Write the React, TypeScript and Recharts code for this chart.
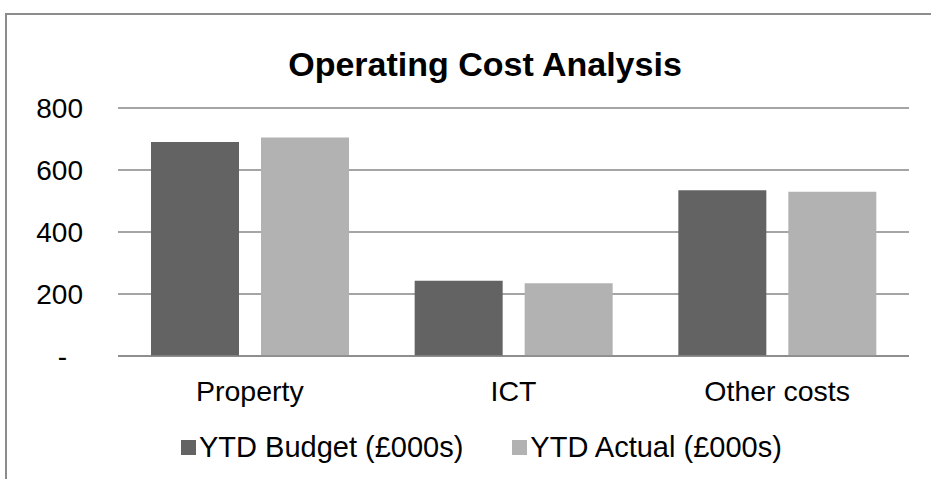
import { BarChart, Bar, XAxis, YAxis, CartesianGrid, Legend } from "recharts";

const categories = ["Property", "ICT", "Other costs"];
const budget = [690, 243, 535];
const actual = [705, 235, 530];
const yTicks = [0, 200, 400, 600, 800];

const SERIES = [
  { key: "budget", name: "YTD Budget (£000s)", fill: "#636363" },
  { key: "actual", name: "YTD Actual (£000s)", fill: "#b2b2b2" },
];

const FONT = "'Liberation Sans', Arial, sans-serif";
const GRID = "#878787";

const data = categories.map((name, i) => ({ name, budget: budget[i], actual: actual[i] }));

/* eslint-disable @typescript-eslint/no-explicit-any */
const YTick = ({ x, y, payload }: any) => {
  const isZero = payload.value === 0;
  return (
    <text
      x={isZero ? x - 16 : x}
      y={y}
      dy="0.355em"
      textAnchor="end"
      fontSize={28}
      fontFamily={FONT}
      fill="#000"
    >
      {isZero ? "-" : payload.value}
    </text>
  );
};

const LegendContent = () => (
  <div style={{ height: 40, display: "flex", alignItems: "center", paddingLeft: 181, fontFamily: FONT, fontSize: 29, color: "#000" }}>
    {SERIES.map((s, i) => (
      <div key={s.key} style={{ display: "flex", alignItems: "center", marginLeft: i > 0 ? 49 : 0 }}>
        <span style={{ display: "inline-block", width: 15, height: 15, background: s.fill, marginRight: 3 }} />
        <span>{s.name}</span>
      </div>
    ))}
  </div>
);
/* eslint-enable @typescript-eslint/no-explicit-any */

export default function App() {
  return (
    <div style={{ position: "fixed", left: 0, top: 0, width: 931, height: 479, overflow: "hidden", background: "#fff" }}>
      <div style={{ position: "absolute", left: 0, top: 0 }}>
        <BarChart
          width={931}
          height={479}
          data={data}
          margin={{ top: 108, right: 22, bottom: 12, left: 0 }}
          barCategoryGap={33}
          barGap={22}
        >
          <text x={485} y={76} textAnchor="middle" fontSize={34} fontWeight="bold" fontFamily={FONT} fill="#000">
            Operating Cost Analysis
          </text>
          <CartesianGrid vertical={false} stroke={GRID} strokeWidth={1.5} />
          <XAxis
            dataKey="name"
            height={71}
            tickSize={0}
            tickMargin={25}
            axisLine={{ stroke: GRID, strokeWidth: 1.5 }}
            tickLine={false}
            tick={{ fontSize: 28.5, fill: "#000", fontFamily: FONT }}
          />
          <YAxis
            width={118}
            domain={[0, 800]}
            ticks={yTicks}
            axisLine={false}
            tickLine={false}
            tickSize={0}
            tickMargin={35}
            tick={<YTick />}
          />
          <Legend verticalAlign="bottom" content={<LegendContent />} wrapperStyle={{ left: 0, width: 931 }} />
          {SERIES.map((s) => (
            <Bar key={s.key} dataKey={s.key} name={s.name} fill={s.fill} isAnimationActive={false} />
          ))}
        </BarChart>
      </div>
      <div
        style={{
          position: "absolute",
          left: 5,
          top: 13,
          width: 960,
          height: 500,
          borderLeft: "2px solid #8c8c8c",
          borderTop: "2px solid #8c8c8c",
          boxSizing: "border-box",
          zIndex: 10,
          pointerEvents: "none",
        }}
      />
    </div>
  );
}
